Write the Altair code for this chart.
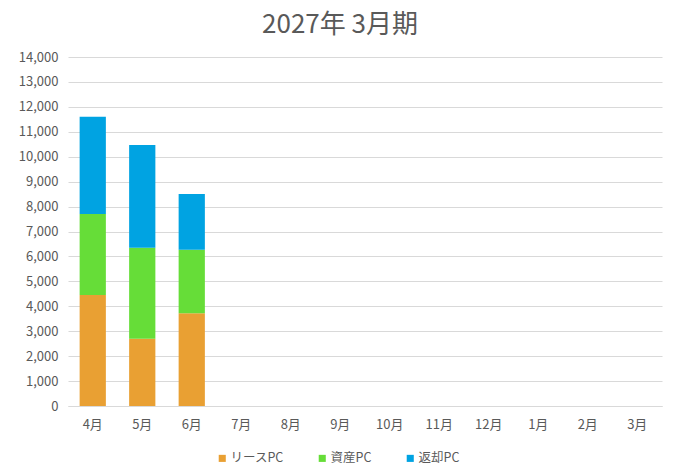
import pandas as pd
import altair as alt

FONT = "Noto Sans CJK JP"
TEXT_COLOR = "#595959"

months = ["4月", "5月", "6月", "7月", "8月", "9月", "10月", "11月", "12月", "1月", "2月", "3月"]
series = ["リースPC", "資産PC", "返却PC"]
colors = ["#E9A033", "#66DD38", "#00A3E2"]

# values for the months that have data (4月-6月)
lease_pc = [4450, 2700, 3720]
asset_pc = [3250, 3650, 2550]
return_pc = [3900, 4120, 2230]

rows = []
for i, (a, b, c) in enumerate(zip(lease_pc, asset_pc, return_pc)):
    for name, val, order in zip(series, [a, b, c], [0, 1, 2]):
        rows.append({"month": months[i], "series": name, "value": val, "order": order})
df = pd.DataFrame(rows)

bars = alt.Chart(df).mark_bar().encode(
    x=alt.X(
        "month:N",
        sort=months,
        scale=alt.Scale(domain=months, paddingInner=0.47, paddingOuter=0.235),
        axis=alt.Axis(
            title=None, labelAngle=0, ticks=False, domainColor="#d9d9d9",
            labelColor=TEXT_COLOR, labelFontSize=13, labelFont=FONT, labelPadding=12,
        ),
    ),
    y=alt.Y(
        "value:Q",
        stack="zero",
        scale=alt.Scale(domain=[0, 14000]),
        axis=alt.Axis(
            title=None, values=list(range(0, 14001, 1000)), format=",d",
            domain=False, ticks=False, gridColor="#d9d9d9",
            labelColor=TEXT_COLOR, labelFontSize=13, labelFont=FONT, labelPadding=10,
        ),
    ),
    color=alt.Color(
        "series:N",
        sort=series,
        scale=alt.Scale(domain=series, range=colors),
        legend=alt.Legend(
            title=None, orient="none", direction="horizontal", legendX=148, legendY=395,
            symbolType="square", symbolSize=50, symbolStrokeWidth=0,
            labelColor=TEXT_COLOR, labelFontSize=12.5, labelFont=FONT,
            columnPadding=32, labelOffset=2,
        ),
    ),
    order=alt.Order("order:Q"),
)

chart = bars.properties(
    width=594,
    height=349,
    autosize=alt.AutoSizeParams(type="none"),
    padding={"left": 60, "top": 49, "right": 5, "bottom": 59},
    title=alt.TitleParams(
        text="2027年 3月期", font=FONT, fontSize=26, fontWeight="normal",
        color=TEXT_COLOR, anchor="middle", dx=-25, offset=13,
    ),
).configure_view(stroke=None)

chart.save("out.html", embed_options={"renderer": "svg", "actions": False})
